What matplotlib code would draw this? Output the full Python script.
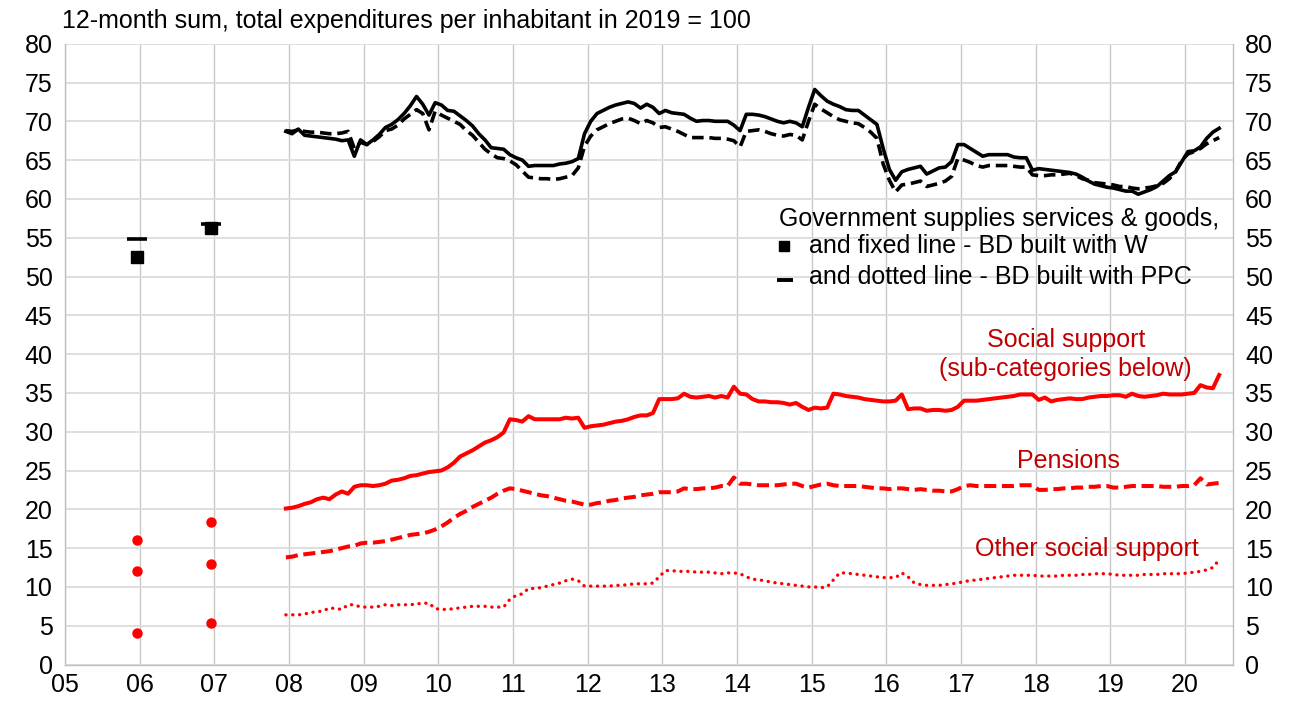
import numpy as np
import matplotlib
matplotlib.use("Agg")
import matplotlib.pyplot as plt

plt.rcParams['font.family'] = ['Liberation Sans', 'DejaVu Sans']

# ---- data -------------------------------------------------------------
# annual observations (December 2005, December 2006)
annual_years = [2005, 2006]
annual_w = [52.5, 56.2]          # BD built with W (square)
annual_ppc = [54.8, 56.8]        # BD built with PPC (dash)
annual_social = [16.1, 18.4]
annual_pensions = [12.1, 13.0]
annual_other = [4.1, 5.3]

# monthly series, Dec 2007 .. Jun 2020
monthly_start = (2007, 12)

gov_w = [
    68.7, 68.4, 69.0, 68.2, 68.1, 68.0, 67.9, 67.8, 67.7, 67.5, 67.6, 65.5,
    67.6, 67.0, 67.6, 68.3, 69.2, 69.6, 70.2, 71.0, 72.0, 73.2, 72.2, 70.8,
    72.4, 72.1, 71.4, 71.3, 70.7, 70.1, 69.4, 68.4, 67.6, 66.6, 66.5, 66.4,
    65.7, 65.3, 65.0, 64.2, 64.3, 64.3, 64.3, 64.3, 64.5, 64.6, 64.8, 65.2,
    68.4, 70.0, 71.0, 71.4, 71.8, 72.1, 72.3, 72.5, 72.3, 71.7, 72.2, 71.8,
    71.0, 71.4, 71.1, 71.0, 70.9, 70.4, 70.0, 70.1, 70.1, 70.0, 70.0, 70.0,
    69.5, 68.8, 70.9, 70.9, 70.8, 70.6, 70.3, 70.0, 69.8, 70.0, 69.8, 69.3,
    71.8, 74.1, 73.3, 72.6, 72.2, 71.9, 71.5, 71.4, 71.4, 70.8, 70.2, 69.6,
    66.5, 63.8, 62.4, 63.5, 63.8, 64.0, 64.2, 63.2, 63.6, 64.0, 64.1, 64.8,
    67.0, 67.0, 66.5, 66.0, 65.5, 65.7, 65.7, 65.7, 65.7, 65.4, 65.3, 65.3,
    63.7, 63.9, 63.8, 63.7, 63.6, 63.5, 63.4, 63.2, 62.8, 62.3, 61.9, 61.7,
    61.5, 61.4, 61.2, 61.0, 61.0, 60.6, 60.9, 61.2, 61.6, 62.3, 63.0, 63.5,
    64.8, 66.1, 66.2, 66.7, 67.8, 68.6, 69.1,
]

gov_ppc = [
    68.8, 68.7, 68.9, 68.7, 68.6, 68.6, 68.5, 68.4, 68.4, 68.5, 68.7, 66.5,
    67.3, 67.0, 67.4, 68.0, 68.8, 69.0, 69.5, 70.3, 70.9, 71.5, 71.0, 68.9,
    71.3, 70.8, 70.4, 70.0, 69.6, 68.8, 68.2, 67.3, 66.4, 65.8, 65.3, 65.2,
    64.9, 64.4, 63.6, 62.8, 62.7, 62.6, 62.6, 62.5, 62.6, 62.8, 63.0, 64.0,
    66.8, 68.1, 68.9, 69.3, 69.7, 70.0, 70.3, 70.4, 70.1, 69.7, 70.1, 69.8,
    69.2, 69.3, 69.0, 68.7, 68.3, 67.9, 67.9, 67.9, 67.9, 67.8, 67.8, 67.7,
    67.5, 66.7, 68.7, 68.8, 68.9, 68.7, 68.4, 68.2, 68.1, 68.3, 68.2, 67.6,
    70.0, 72.2, 71.6, 71.1, 70.6, 70.2, 70.0, 69.8, 69.7, 69.2, 68.6, 67.8,
    64.5, 62.4, 60.9, 61.8, 61.9, 62.1, 62.3, 61.6, 61.8, 62.0, 62.3, 62.9,
    65.2, 65.0, 64.7, 64.3, 64.1, 64.3, 64.3, 64.3, 64.3, 64.2, 64.1, 64.1,
    63.1, 63.0, 63.0, 63.1, 63.1, 63.2, 63.3, 63.0, 62.6, 62.4, 62.1, 62.0,
    61.9, 61.8, 61.6, 61.6, 61.4, 61.3, 61.4, 61.5, 61.7, 62.0, 62.6, 63.5,
    65.0, 65.8, 66.1, 66.5, 67.1, 67.5, 67.9,
]

social = [
    20.1, 20.2, 20.4, 20.7, 20.9, 21.3, 21.5, 21.3, 21.9, 22.3, 22.0, 22.9,
    23.1, 23.1, 23.0, 23.1, 23.3, 23.7, 23.8, 24.0, 24.3, 24.4, 24.6, 24.8,
    24.9, 25.0, 25.4, 26.0, 26.8, 27.2, 27.6, 28.1, 28.6, 28.9, 29.3, 29.9,
    31.6, 31.5, 31.3, 32.0, 31.6, 31.6, 31.6, 31.6, 31.6, 31.8, 31.7, 31.8,
    30.5, 30.7, 30.8, 30.9, 31.1, 31.3, 31.4, 31.6, 31.9, 32.1, 32.1, 32.4,
    34.2, 34.2, 34.2, 34.3, 34.9, 34.5, 34.4, 34.5, 34.6, 34.4, 34.6, 34.4,
    35.8, 34.9, 34.8, 34.2, 33.9, 33.9, 33.8, 33.8, 33.7, 33.5, 33.7, 33.2,
    32.8, 33.1, 33.0, 33.1, 34.9, 34.8, 34.6, 34.5, 34.4, 34.2, 34.1, 34.0,
    33.9, 33.9, 34.0, 34.8, 32.9, 33.0, 33.0, 32.7, 32.8, 32.8, 32.7, 32.8,
    33.2, 34.0, 34.0, 34.0, 34.1, 34.2, 34.3, 34.4, 34.5, 34.6, 34.8, 34.8,
    34.8, 34.1, 34.4, 33.9, 34.1, 34.2, 34.3, 34.2, 34.2, 34.4, 34.5, 34.6,
    34.6, 34.7, 34.7, 34.5, 34.9, 34.6, 34.5, 34.6, 34.7, 34.9, 34.8, 34.8,
    34.8, 34.9, 35.0, 36.0, 35.7, 35.6, 37.3,
]

pensions = [
    13.8, 13.9, 14.1, 14.2, 14.3, 14.4, 14.5, 14.6, 14.8, 15.0, 15.2, 15.3,
    15.6, 15.7, 15.7, 15.8, 15.9, 16.1, 16.3, 16.5, 16.7, 16.8, 16.9, 17.1,
    17.4, 17.8, 18.3, 18.9, 19.4, 19.8, 20.3, 20.7, 21.1, 21.5, 22.0, 22.4,
    22.7, 22.6, 22.4, 22.2, 22.0, 21.8, 21.7, 21.5, 21.3, 21.1, 21.0, 20.8,
    20.6, 20.6, 20.8, 20.9, 21.1, 21.2, 21.4, 21.5, 21.6, 21.8, 21.9, 22.0,
    22.2, 22.2, 22.2, 22.3, 22.7, 22.6, 22.6, 22.7, 22.7, 22.8, 23.0, 23.0,
    24.1, 23.3, 23.3, 23.2, 23.1, 23.1, 23.1, 23.1, 23.2, 23.3, 23.3, 23.0,
    22.8, 23.0, 23.2, 23.3, 23.1, 23.0, 23.0, 23.0, 23.0, 22.9, 22.8, 22.7,
    22.7, 22.6, 22.7, 22.7, 22.6, 22.5, 22.6, 22.5, 22.4, 22.4, 22.3, 22.3,
    22.6, 23.0, 23.1, 23.0, 23.0, 23.0, 23.0, 23.0, 23.0, 23.0, 23.1, 23.1,
    23.1, 22.5, 22.5, 22.6, 22.6, 22.7, 22.7, 22.8, 22.8, 22.9, 22.9, 23.0,
    23.0, 22.8, 22.8, 22.9, 23.0, 23.0, 23.0, 23.0, 23.0, 22.9, 22.9, 22.9,
    23.0, 23.0, 23.1, 24.0, 23.2, 23.3, 23.4,
]

other_social = [
    6.4, 6.4, 6.4, 6.5, 6.7, 6.8, 6.9, 7.3, 7.2, 7.1, 7.7, 7.7,
    7.4, 7.4, 7.4, 7.5, 7.7, 7.6, 7.7, 7.7, 7.7, 7.8, 7.9, 7.9,
    7.2, 7.1, 7.1, 7.2, 7.3, 7.4, 7.5, 7.5, 7.5, 7.4, 7.4, 7.4,
    8.4, 8.9, 9.1, 9.8, 9.8, 9.9, 10.1, 10.3, 10.5, 10.8, 11.0, 10.8,
    10.1, 10.1, 10.1, 10.1, 10.1, 10.2, 10.2, 10.3, 10.4, 10.4, 10.4, 10.5,
    11.3, 12.1, 12.1, 12.0, 12.0, 12.0, 11.9, 11.9, 11.9, 11.8, 11.7, 11.8,
    11.8, 11.7, 11.3, 11.0, 10.9, 10.8, 10.6, 10.5, 10.4, 10.3, 10.2, 10.1,
    10.0, 10.0, 9.9, 10.0, 10.9, 11.8, 11.8, 11.7, 11.6, 11.5, 11.4, 11.3,
    11.2, 11.2, 11.2, 11.8, 11.3, 10.5, 10.3, 10.2, 10.2, 10.2, 10.3, 10.4,
    10.5, 10.7, 10.8, 10.9, 11.0, 11.1, 11.2, 11.3, 11.4, 11.5, 11.5, 11.5,
    11.5, 11.4, 11.4, 11.4, 11.4, 11.5, 11.5, 11.5, 11.6, 11.6, 11.7, 11.7,
    11.7, 11.6, 11.5, 11.5, 11.5, 11.5, 11.6, 11.6, 11.6, 11.7, 11.7, 11.7,
    11.7, 11.8, 11.9, 12.0, 12.2, 12.5, 13.5,
]

year_ticks = list(range(2005, 2021))
year_labels = [f"{y % 100:02d}" for y in year_ticks]
y_ticks = list(range(0, 81, 5))

title = "12-month sum, total expenditures per inhabitant in 2019 = 100"

# ---- positions (mid-month on a decimal-year axis) ---------------------
n = len(gov_w)
sy, sm = monthly_start
months = sm - 1 + np.arange(n)
x_month = sy + months // 12 + ((months % 12) + 0.5) / 12
x_annual = np.array(annual_years) + (11 + 0.5) / 12

# ---- figure ------------------------------------------------------------
W, H = 1299, 702
fig = plt.figure(figsize=(W / 100, H / 100), dpi=100)
ax = fig.add_axes([65 / W, 1 - 664.5 / H, (1232.7 - 65) / W, (664.5 - 43.7) / H])

RED = "#FF0000"
DARKRED = "#C00000"
FS = 18

ax.set_xlim(2005, 2020.64)
ax.set_ylim(0, 80)
ax.set_xticks(year_ticks)
ax.set_xticklabels(year_labels)
ax.set_yticks(y_ticks)
ax.grid(axis='x', color='#C8C8C8', lw=1.0)
ax.grid(axis='y', color='#DCDCDC', lw=1.3)
ax.set_axisbelow(True)
for s in ax.spines.values():
    s.set_color('#C0C0C0')
    s.set_linewidth(1.0)
ax.spines['top'].set_visible(False)
ax.tick_params(length=0, labelsize=FS)
ax.tick_params(axis='x', pad=6)
ax.tick_params(axis='y', which='both', labelleft=True, labelright=True, right=False, pad=9)

lw = 2.6
ax.plot(x_month, gov_w, color='black', lw=lw, solid_joinstyle='round')
ax.plot(x_month, gov_ppc, color='black', lw=lw, linestyle=(0, (3.2, 1.6)))
ax.plot(x_month, social, color=RED, lw=2.9, solid_joinstyle='round')
ax.plot(x_month, pensions, color=RED, lw=2.9, linestyle=(0, (3, 1.4)))
ax.plot(x_month, other_social, color=RED, lw=2.4, linestyle=(0, (0.05, 2.0)),
        dash_capstyle='round')

# annual markers
ax.plot(x_annual, annual_w, linestyle='none', marker='s', ms=8.5, color='black')
ax.plot(x_annual, annual_ppc, linestyle='none', marker='_', ms=14, mew=2.6, color='black')
for vals in (annual_social, annual_pensions, annual_other):
    ax.plot(x_annual, vals, linestyle='none', marker='o', ms=6.5, color=RED)

# legend-like annotations
ax.text(2014.56, 57.4, "Government supplies services & goods,", fontsize=FS,
        ha='left', va='center')
ax.plot([2014.63], [53.9], linestyle='none', marker='s', ms=6.5, color='black')
ax.plot([2014.65], [49.6], linestyle='none', marker='_', ms=12, mew=2.8, color='black')
ax.text(2014.96, 53.9, "and fixed line - BD built with W", fontsize=FS,
        ha='left', va='center')
ax.text(2014.96, 50.0, "and dotted line - BD built with PPC", fontsize=FS,
        ha='left', va='center')

ax.text(2018.41, 41.8, "Social support", fontsize=FS, color=DARKRED, ha='center', va='center')
ax.text(2018.40, 38.1, "(sub-categories below)", fontsize=FS, color=DARKRED, ha='center', va='center')
ax.text(2018.44, 26.2, "Pensions", fontsize=FS, color=DARKRED, ha='center', va='center')
ax.text(2018.69, 14.9, "Other social support", fontsize=FS, color=DARKRED, ha='center', va='center')

fig.text(62 / W, 1 - 21 / H, title, fontsize=FS, ha='left', va='center')

fig.savefig("out.png", dpi=100)
